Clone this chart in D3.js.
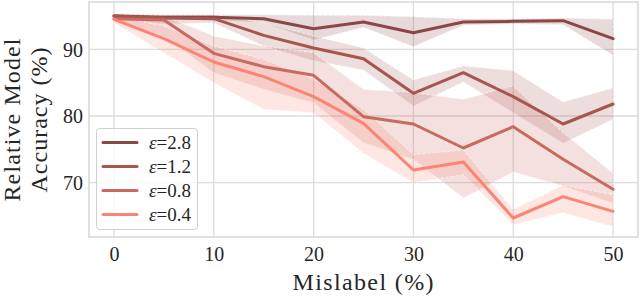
<!DOCTYPE html>
<html><head><meta charset="utf-8">
<script src="https://cdn.jsdelivr.net/npm/d3@7"></script>
<style>body{margin:0;background:#fff}svg{display:block}
text{font-family:"Liberation Serif","DejaVu Serif","Times New Roman",Times,serif}</style>
</head><body>
<svg id="c" width="640" height="297"></svg>
<script>
const mislabel = [0,5,10,15,20,25,30,35,40,45,50];
const epsLabels = ["2.8","1.2","0.8","0.4"];
const colors = ["#8b4745","#a7554f","#c9695f","#fc8474"];
const mean28 = [95.0,94.8,94.8,94.6,93.1,94.1,92.5,94.1,94.2,94.3,91.6];
const lo28   = [94.6,94.4,94.4,94.0,91.4,93.3,90.4,93.6,93.8,93.7,89.1];
const hi28   = [95.3,95.2,95.2,95.2,95.1,95.1,94.9,94.6,94.6,94.7,94.5];
const mean12 = [95.0,94.7,94.6,92.1,90.2,88.6,83.4,86.5,82.9,78.8,81.8];
const lo12   = [94.5,93.8,94.0,90.5,88.3,86.9,81.5,85.1,80.5,75.9,79.5];
const hi12   = [95.3,95.2,95.2,94.0,92.0,90.2,85.4,87.5,86.8,82.1,84.2];
const mean08 = [94.6,94.4,89.4,87.4,86.1,79.9,78.8,75.2,78.4,73.5,69.0];
const lo08   = [94.2,92.0,86.5,84.0,82.0,76.0,73.5,67.7,71.6,69.5,66.9];
const hi08   = [95.0,95.0,92.0,90.5,89.5,84.0,83.5,82.5,84.5,77.5,71.4];
const mean04 = [94.5,91.6,88.1,85.9,82.9,78.9,71.9,73.1,64.7,67.9,65.7];
const lo04   = [94.0,89.5,85.0,81.0,80.5,74.4,70.0,71.2,63.7,65.5,63.4];
const hi04   = [95.0,93.5,90.5,88.5,85.5,81.0,74.2,74.9,66.0,69.6,68.2];
const xTicks = [0,10,20,30,40,50];
const yTicks = [70,80,90];

const series = [
  {eps:epsLabels[0], color:colors[0], mean:mean28, lo:lo28, hi:hi28},
  {eps:epsLabels[1], color:colors[1], mean:mean12, lo:lo12, hi:hi12},
  {eps:epsLabels[2], color:colors[2], mean:mean08, lo:lo08, hi:hi08},
  {eps:epsLabels[3], color:colors[3], mean:mean04, lo:lo04, hi:hi04}
];

const svg = d3.select("#c");
const L=89, R=638, T=2, B=237;
const x = d3.scaleLinear().domain([-2.5,52.5]).range([L,R]);
const y = d3.scaleLinear().domain([61.85,97.1]).range([B,T]);
const textCol = "#262626";

// grid
const g = svg.append("g");
g.selectAll(".gx").data(xTicks).join("line")
  .attr("x1",d=>x(d)).attr("x2",d=>x(d)).attr("y1",T).attr("y2",B)
  .attr("stroke","#dcdcdc").attr("stroke-width",1.3);
g.selectAll(".gy").data(yTicks).join("line")
  .attr("y1",d=>y(d)).attr("y2",d=>y(d)).attr("x1",L).attr("x2",R)
  .attr("stroke","#dcdcdc").attr("stroke-width",1.3);

// bands
const area = d3.area().x((d,i)=>x(mislabel[i])).y0(d=>y(d[0])).y1(d=>y(d[1]));
series.forEach(s=>{
  const pts = s.lo.map((v,i)=>[v,s.hi[i]]);
  svg.append("path").attr("d",area(pts))
    .attr("fill",s.color).attr("fill-opacity",0.2)
    .attr("stroke","#fff").attr("stroke-opacity",0.75).attr("stroke-width",0.8)
    .attr("stroke-dasharray","3,2");
});
// lines
const line = d3.line().x((d,i)=>x(mislabel[i])).y(d=>y(d));
series.forEach(s=>{
  svg.append("path").attr("d",line(s.mean))
    .attr("fill","none").attr("stroke",s.color).attr("stroke-width",3)
    .attr("stroke-linejoin","round").attr("stroke-linecap","round");
});

// frame
svg.append("rect").attr("x",L).attr("y",T).attr("width",R-L).attr("height",B-T)
  .attr("fill","none").attr("stroke","#d6d6d6").attr("stroke-width",1.5);

// axes ticks labels
const xAxis = d3.axisBottom(x).tickValues(xTicks).tickSize(0).tickPadding(0);
const ax = svg.append("g").attr("transform",`translate(0,${B})`).call(xAxis)
  .attr("font-family",null);
ax.select(".domain").remove();
ax.selectAll("text").attr("font-size",20).attr("fill",textCol)
  .attr("y",24).attr("dy",0);
const yAxis = d3.axisLeft(y).tickValues(yTicks).tickSize(0).tickPadding(0);
const ay = svg.append("g").attr("transform",`translate(${L},0)`).call(yAxis)
  .attr("font-family",null);
ay.select(".domain").remove();
ay.selectAll("text").attr("font-size",20).attr("fill",textCol)
  .attr("x",-6).attr("dy","0.34em");

// axis titles
svg.append("text").attr("x",363).attr("y",290).attr("text-anchor","middle")
  .attr("font-size",24).attr("fill",textCol)
  .attr("textLength",141).text("Mislabel (%)");
const yl = svg.append("text").attr("transform","translate(0,120) rotate(-90)")
  .attr("text-anchor","middle").attr("font-size",24).attr("fill",textCol);
yl.append("tspan").attr("x",0).attr("y",20).attr("textLength",163).text("Relative Model");
yl.append("tspan").attr("x",0).attr("y",47).attr("textLength",145).text("Accuracy (%)");

// legend
const lg = svg.append("g");
lg.append("rect").attr("x",96.5).attr("y",128.5).attr("width",101).attr("height",101)
  .attr("rx",3).attr("fill","#fff").attr("fill-opacity",0.8)
  .attr("stroke","#d0d0d0").attr("stroke-width",1);
series.forEach((s,i)=>{
  const yy = 142.5 + i*24;
  lg.append("line").attr("x1",103).attr("x2",137).attr("y1",yy).attr("y2",yy)
    .attr("stroke",s.color).attr("stroke-width",3).attr("stroke-linecap","round");
  const t = lg.append("text").attr("x",149).attr("y",yy).attr("dy","0.36em")
    .attr("font-size",19).attr("fill",textCol);
  t.append("tspan").attr("font-style","italic").text("\u03B5");
  t.append("tspan").text("=" + s.eps);
});
</script>
</body></html>
